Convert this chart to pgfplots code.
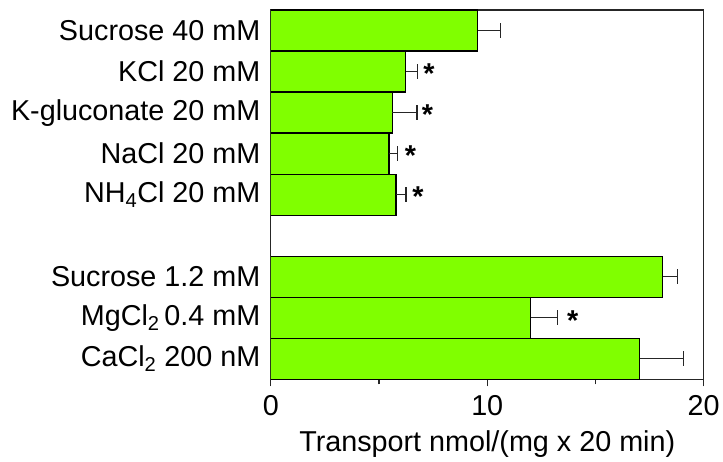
\documentclass[border=0pt]{standalone}
\usepackage{pgfplots}
\pgfplotsset{compat=1.18}
\usepackage{fontspec}
\setmainfont{Liberation Sans}
\definecolor{barcol}{RGB}{128,255,0}
\pgfplotstableread{
pos val err
8 9.56 1.06
7 6.24 0.55
6 5.62 1.14
5 5.46 0.38
4 5.78 0.46
2 18.11 0.68
1 12.00 1.24
0 17.04 2.03
}\bars
\pgfplotstableread{
x y
7.31 6.95
7.24 5.95
6.45 4.95
6.80 3.95
13.95 0.94
}\stars
\begin{document}
\begin{tikzpicture}
\begin{axis}[
  scale only axis, width=433.7bp, height=370bp,
  xmin=0, xmax=20, ymin=-0.5, ymax=8.5,
  font=\fontsize{28.8bp}{34bp}\selectfont,
  /pgf/number format/assume math mode=true,
  ticklabel style={font=\fontsize{28.8bp}{34bp}\selectfont},
  xticklabel style={yshift=-6bp},
  xlabel style={yshift=-8bp},
  axis line style={line width=1.2bp, black!85},
  xtick={0,10,20}, minor xtick={5,15},
  xtick pos=bottom, tick align=outside,
  major tick length=7bp, minor tick length=5bp,
  every tick/.style={line width=1.2bp, black!85},
  ytick={0,1,2,4,5,6,7,8},
  yticklabels={CaCl\textsubscript{2} 200 nM, MgCl\textsubscript{2}\,0.4 mM, Sucrose 1.2 mM, NH\textsubscript{4}Cl 20 mM, NaCl 20 mM, K-gluconate 20 mM, KCl 20 mM, Sucrose 40 mM},
  ytick style={draw=none},
  xlabel={Transport nmol/(mg x 20 min)},
]
\addplot[xbar, bar width=1, bar shift=0pt, fill=barcol, draw=black, line width=1.2bp,
  error bars/.cd, x dir=plus, x explicit, error mark=|,
  error bar style={line width=1.4bp, black!85},
  error mark options={line width=1.4bp, black!85, mark size=7.5bp}]
  table[x=val, y=pos, x error=err] {\bars};
\addplot[only marks, mark=text, text mark={\fontsize{28.8bp}{34bp}\selectfont\bfseries *}]
  table[x=x, y=y] {\stars};
\end{axis}
\path (current axis.south west) ++(-271.3bp,-81bp) rectangle ++(723bp,461bp);
\end{tikzpicture}
\end{document}
